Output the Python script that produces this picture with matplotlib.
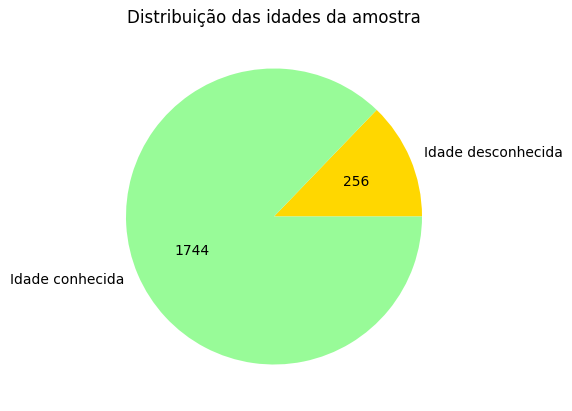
import matplotlib
matplotlib.use("Agg")
import matplotlib.pyplot as plt

labels = ["Idade desconhecida", "Idade conhecida"]
values = [256, 1744]
colors = ["gold", "palegreen"]
title = "Distribuição das idades da amostra"

total = sum(values)

fig = plt.figure(figsize=(5.72, 4.11), dpi=100)
ax = fig.add_axes([89/572, 9.5/411, 370/572, 370/411])
ax.pie(values, labels=labels, colors=colors,
       autopct=lambda p: f"{round(p * total / 100):d}")
ax.set_title(title)
fig.savefig("out.png", dpi=100)
